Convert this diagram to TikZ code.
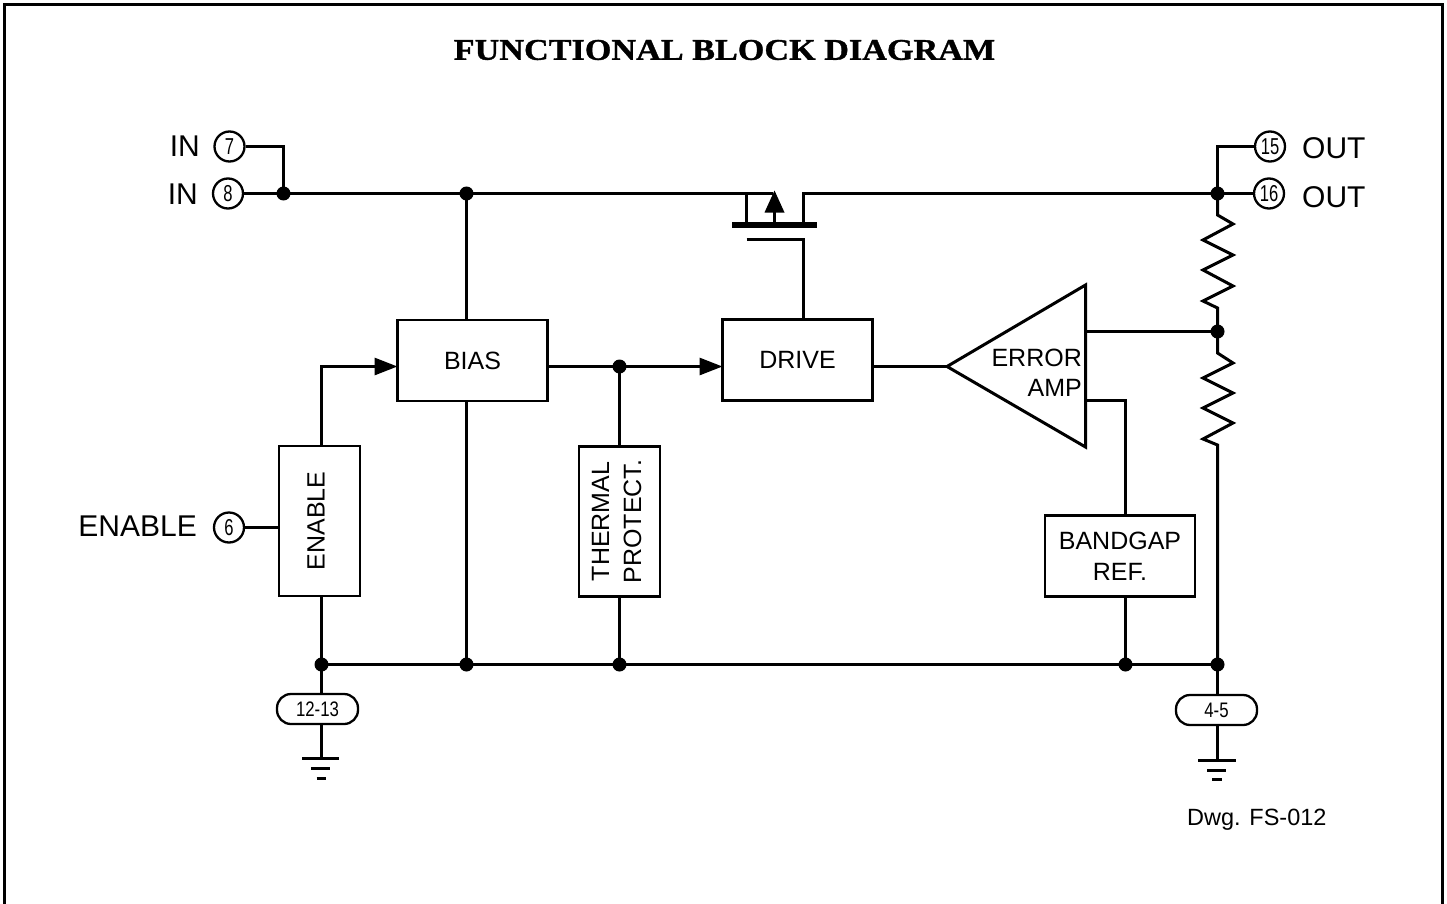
\documentclass[tikz,border=0pt]{standalone}
\usepackage{fontspec}
\setmainfont{Liberation Sans}
\newfontfamily\titlefont[FakeStretch=1.14,FakeBold=1.2]{Liberation Serif}
\newfontfamily\pinfont[FakeStretch=0.72]{Liberation Sans}
\newfontfamily\pillfont[FakeStretch=0.8]{Liberation Sans}
\usetikzlibrary{arrows.meta}
\tikzset{
  x=1pt,y=-1pt,
  wire/.style={line width=3pt},
  blockbox/.style={draw,line width=2.8pt,fill=white,anchor=center,inner sep=0pt,align=center,font=\fontsize{25}{31}\selectfont},
  pin/.style={draw,circle,line width=2.3pt,fill=white,minimum size=30pt,inner sep=0pt,font=\pinfont\fontsize{23}{23}\selectfont},
  pill/.style={draw,rounded corners=14pt,line width=2.3pt,fill=white,minimum width=81pt,minimum height=30pt,inner sep=0pt,font=\pillfont\fontsize{21}{21}\selectfont},
  lab/.style={inner sep=0pt,font=\fontsize{30}{32}\selectfont},
  dotn/.style={circle,fill=black,draw=none,minimum size=14pt,inner sep=0pt},
  gndbar/.style={line width=3pt},
  arrowtip/.style={-{Triangle[length=23pt,width=17pt]}},
}
\begin{document}
\begin{tikzpicture}
\useasboundingbox (0,0) rectangle (1447,904);
\draw[line width=3pt] (4.5,905) -- (4.5,4.5) -- (1442.5,4.5) -- (1442.5,905);
\node[inner sep=0pt,font=\titlefont\bfseries\fontsize{30}{32}\selectfont,anchor=center] (title) at (724.5,50) {FUNCTIONAL BLOCK DIAGRAM};

% pins
\node[pin] (p7) at (229.5,146.5) {7};
\node[pin] (p8) at (228,193.5) {8};
\node[pin] (p6) at (229,527.5) {6};
\node[pin] (p15) at (1270,146.5) {15};
\node[pin] (p16) at (1269,193.5) {16};
\node[lab,anchor=east] (lin7) at (200,146) {IN};
\node[lab,anchor=east] (lin8) at (198,194) {IN};
\node[lab,anchor=east] (len) at (197,526) {ENABLE};
\node[lab,anchor=west] (lo15) at (1302,148) {OUT};
\node[lab,anchor=west] (lo16) at (1302,197) {OUT};

% blocks
\node[blockbox,minimum width=150pt,minimum height=81pt] (bias) at (472.5,360.5) {\raisebox{-1pt}{BIAS}};
\node[blockbox,minimum width=150pt,minimum height=81pt] (drive) at (797.5,360) {DRIVE};
\node[blockbox,minimum width=81pt,minimum height=150pt] (enable) at (319.5,521) {\hspace*{-7pt}\rotatebox{90}{ENABLE}};
\node[blockbox,minimum width=81pt,minimum height=150pt] (thermal) at (619.5,521.5) {\hspace*{-1pt}\rotatebox{90}{\begin{tabular}{@{}c@{}}THERMAL\\[1pt]PROTECT.\end{tabular}}};
\node[blockbox,minimum width=150pt,minimum height=81pt] (bandgap) at (1120,556) {BANDGAP\\REF.};

% error amp
\coordinate (ampL) at (947,366.5);
\coordinate (ampT) at (1085.5,285);
\coordinate (ampB) at (1085.5,447);
\draw[wire,line join=miter,fill=white] (ampL) -- (ampT) -- (ampB) -- cycle;
\node[inner sep=0pt,align=right,anchor=east,font=\fontsize{25}{30}\selectfont] (amptext) at (1082,373) {ERROR\\AMP};

% junctions
\coordinate (jin) at (283.5,193.5);
\coordinate (jbias) at (466.5,193.5);
\coordinate (jout) at (1217.5,193.5);
\coordinate (jfb) at (1217.5,331.5);
\coordinate (jth) at (619.5,366.5);
\coordinate (g1) at (321.5,664.5);
\coordinate (g2) at (466.5,664.5);
\coordinate (g3) at (619.5,664.5);
\coordinate (g4) at (1125.5,664.5);
\coordinate (g5) at (1217.5,664.5);

% input and output rails
\draw[wire] (p7.east) -- (283.5,146.5) -- (jin);
\draw[wire] (p8.east) -- (jin) -- (jbias) -- (773,193.5);
\draw[wire] (p15.west) -- (1217.5,146.5) -- (jout);
\draw[wire] (p16.west) -- (jout) -- (803.5,193.5) -- (803.5,225);

% FET
\coordinate (fetL) at (732,225);
\coordinate (fetR) at (817,225);
\coordinate (gateL) at (746.5,239.5);
\coordinate (gateR) at (803.5,239.5);
\draw[line width=5.3pt] (fetL) -- (fetR);
\draw[wire] (746.5,193.5) -- (746.5,225);
\draw[wire] (gateL) -- (gateR) -- (803.5,320);
\draw[wire] (774.5,225) -- (774.5,205);
\fill (774.5,190.5) -- (784.5,212.5) -- (764.5,212.5) -- cycle;

% connectors
\draw[wire] (jbias) -- (466.5,320.5);
\draw[wire] (466.5,400) -- (g2);
\draw[wire,arrowtip] (321.5,446) -- (321.5,366.5) -- (397.5,366.5);
\draw[wire] (p6.east) -- (278,527.5);
\draw[wire] (321.5,596) -- (g1);
\draw[wire,arrowtip] (547.5,366.5) -- (722.5,366.5);
\draw[wire] (jth) -- (619.5,446.5);
\draw[wire] (619.5,596) -- (g3);
\draw[wire] (873,366.5) -- (ampL);
\draw[wire] (1085.5,331.5) -- (jfb);
\draw[wire] (1085.5,400.5) -- (1125.5,400.5) -- (1125.5,515.5);
\draw[wire] (1125.5,596.5) -- (g4);
\draw[wire] (g1) -- (g5);

% resistors
\draw[wire,line join=miter] (jout) -- (1217.5,215) -- (1233,224) -- (1203,240) -- (1233,255) -- (1203,270) -- (1233,286) -- (1203,301) -- (1217.5,308) -- (jfb);
\draw[wire,line join=miter] (jfb) -- (1217.5,353) -- (1233,363) -- (1203,378) -- (1233,393) -- (1203,408) -- (1233,423) -- (1203,439) -- (1217.5,445) -- (g5);

% ground
\draw[wire] (g1) -- (321.5,758);
\draw[wire] (g5) -- (1217.5,760);
\node[pill] (pa) at (317.5,709) {12-13};
\node[pill] (pb) at (1216.5,710) {4-5};
\draw[gndbar] (302,758.5) -- (339,758.5) (311,768.5) -- (330,768.5) (316.5,778.5) -- (326,778.5);
\draw[gndbar] (1198,760.5) -- (1236,760.5) (1207,770.5) -- (1226,770.5) (1212,779.5) -- (1222,779.5);

% dots
\foreach \c in {jin,jbias,jout,jfb,jth,g1,g2,g3,g4,g5} \node[dotn] at (\c) {};

\node[inner sep=0pt,anchor=west,font=\fontsize{23.5}{25}\selectfont] (dwg) at (1187,820) {Dwg. FS-012};
\end{tikzpicture}
\end{document}
